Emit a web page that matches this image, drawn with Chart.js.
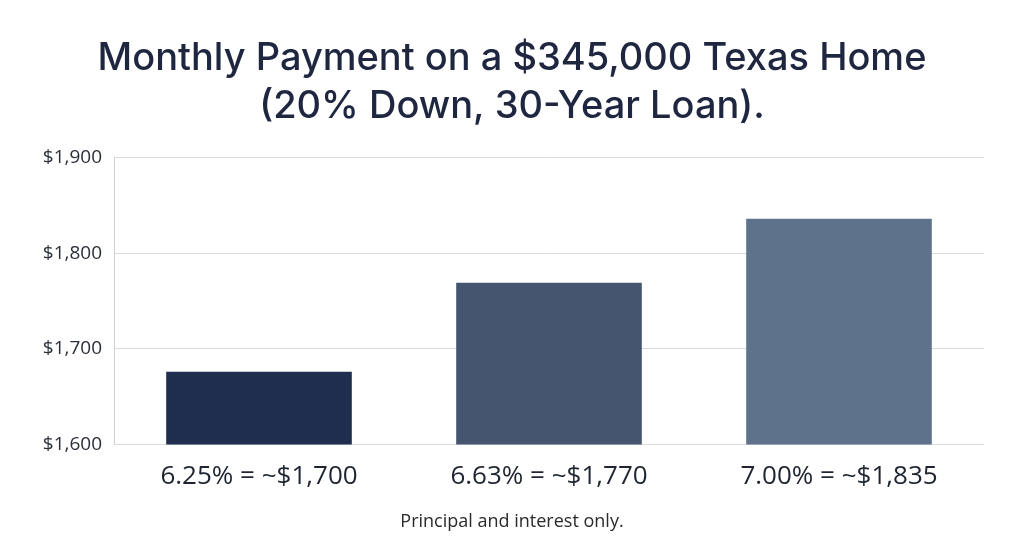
<!DOCTYPE html>
<html>
<head>
<meta charset="utf-8">
<script src="https://cdn.jsdelivr.net/npm/chart.js@4"></script>
<style>
  html, body { margin: 0; padding: 0; background: #fff; }
  #wrap { width: 1024px; height: 559px; }
</style>
</head>
<body>
<div id="wrap"><canvas id="payChart"></canvas></div>
<script>
// data
const categories = ["6.25% = ~$1,700", "6.63% = ~$1,770", "7.00% = ~$1,835"];
const payments = [1676, 1769, 1836];
const barColors = ["#1f2e4e", "#45546f", "#5f728b"];
const yTicks = [1600, 1700, 1800, 1900];
const titleLines = ["Monthly Payment on a $345,000 Texas Home", "(20% Down, 30-Year Loan)."];
const footnote = "Principal and interest only.";

const ctx = document.getElementById("payChart");
new Chart(ctx, {
    type: "bar",
    data: {
        labels: categories,
        datasets: [{
            data: payments,
            backgroundColor: barColors,
            barPercentage: 0.64,
            categoryPercentage: 1
        }]
    },
    options: {
        responsive: true,
        maintainAspectRatio: false,
        animation: false,
        layout: { padding: 0 },
        plugins: {
            legend: { display: false },
            tooltip: { enabled: false },
            title: {
                display: true,
                text: titleLines,
                color: "#1e2640",
                font: { family: "Inter", size: 38, weight: 500, lineHeight: 1.27 },
                padding: { top: 34, bottom: 27 }
            },
            subtitle: {
                display: true,
                position: "bottom",
                text: footnote,
                color: "#2a2a2a",
                font: { family: "Open Sans", size: 18 },
                padding: { top: 9, bottom: 26 }
            }
        },
        scales: {
            x: {
                grid: { display: false },
                border: { display: false },
                ticks: {
                    color: "#1e2530",
                    font: { family: "Open Sans", size: 26, weight: 500 },
                    padding: 9
                },
                afterFit: function(scale) { scale.height = 58; }
            },
            y: {
                min: 1600,
                max: 1900,
                afterBuildTicks: function(scale) {
                    scale.ticks = yTicks.map(v => ({ value: v }));
                },
                grid: { color: "#d9d9d9", lineWidth: 1, drawTicks: false },
                border: { display: true, color: "#d0d0d0" },
                ticks: {
                    color: "#2a2f38",
                    font: { family: "Open Sans", size: 19 },
                    padding: 12,
                    callback: v => "$" + v.toLocaleString("en-US")
                },
                afterFit: function(scale) { scale.width = 114; }
            },
            // empty right-hand spacer so title and footnote stay centred on the page
            yRight: {
                position: "right",
                min: 1600,
                max: 1900,
                grid: { display: false, drawTicks: false },
                border: { display: false },
                ticks: { display: false },
                afterFit: function(scale) { scale.width = 40; }
            }
        }
    }
});
</script>
</body>
</html>
